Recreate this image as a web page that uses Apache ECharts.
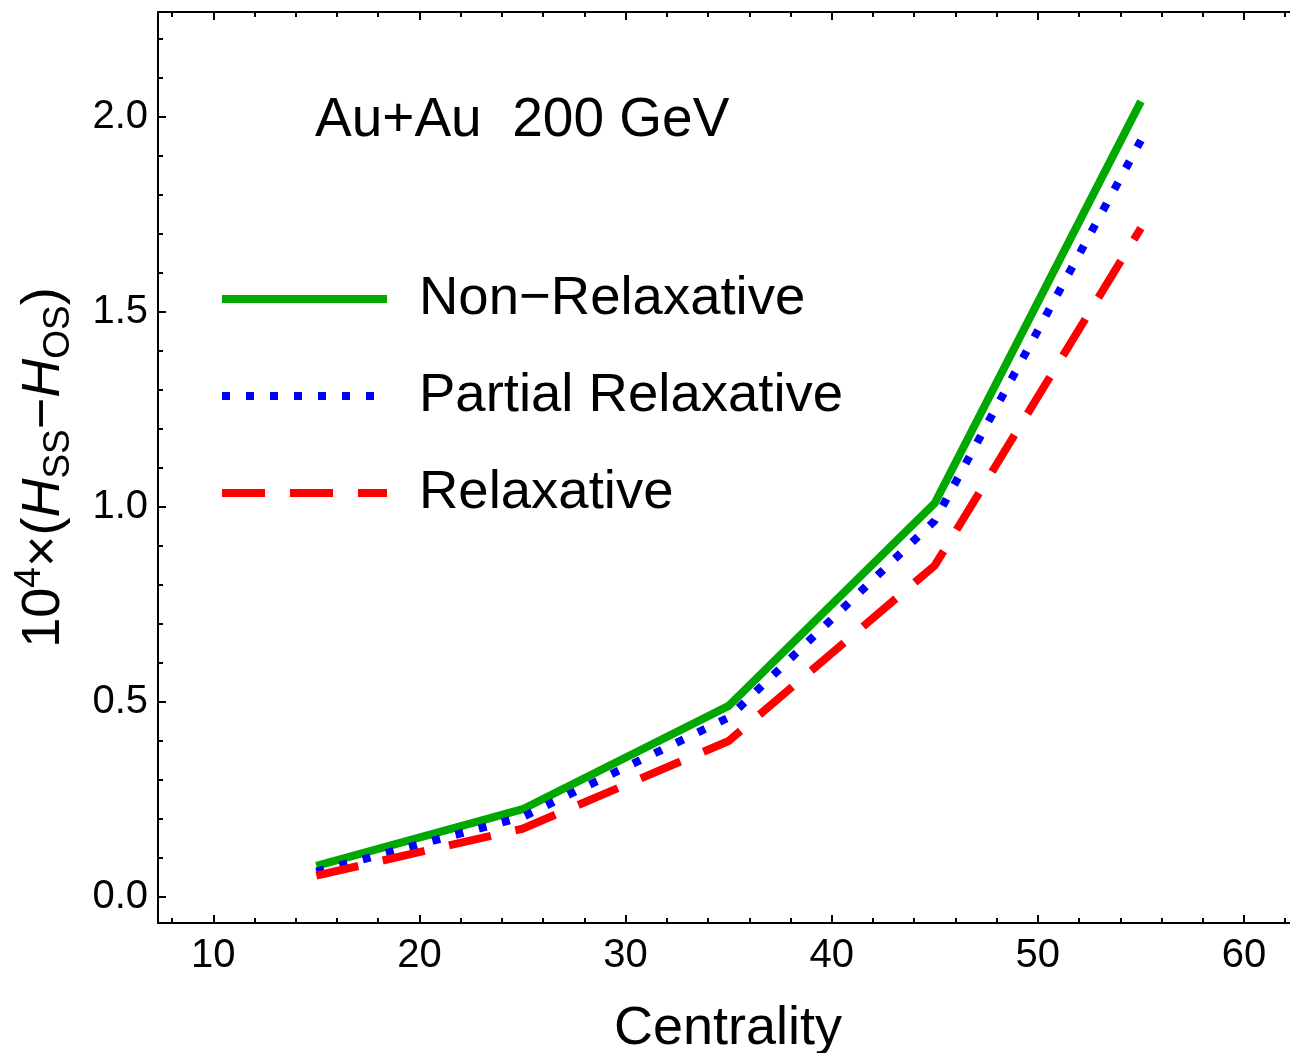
<!DOCTYPE html>
<html>
<head>
<meta charset="utf-8">
<script src="https://cdn.jsdelivr.net/npm/echarts@6/dist/echarts.min.js"></script>
<style>
  html, body { margin: 0; padding: 0; background: #fff; overflow: hidden; }
  #chart { width: 1290px; height: 1053px; }
</style>
</head>
<body>
<div id="chart"></div>
<script>
// Centrality bins (%)
const centrality = [15, 25, 35, 45, 55];
// 10^4 x (H_SS - H_OS) for each scenario
const nonRelaxative = [0.08, 0.225, 0.49, 1.01, 2.04];
const partialRelaxative = [0.065, 0.205, 0.46, 0.965, 1.94];
const relaxative = [0.055, 0.175, 0.40, 0.85, 1.715];

// Tick positions
const xMajorTicks = [10, 20, 30, 40, 50, 60];
const xMinorTicks = [8, 12, 14, 16, 18, 22, 24, 26, 28, 32, 34, 36, 38, 42, 44, 46, 48, 52, 54, 56, 58, 62];
const yMajorTicks = [0, 0.5, 1.0, 1.5, 2.0];
const yMinorTicks = [0.1, 0.2, 0.3, 0.4, 0.6, 0.7, 0.8, 0.9, 1.1, 1.2, 1.3, 1.4, 1.6, 1.7, 1.8, 1.9, 2.1, 2.2];

const X_MIN = 7.317, X_MAX = 62.62;
const Y_MIN = -0.0667, Y_MAX = 2.269;

const FONT = '"Liberation Sans", Arial, sans-serif';
const frameLine = { show: true, onZero: false, lineStyle: { color: '#000', width: 2 } };
const hiddenLine = { show: false, onZero: false };

function xAxisDef(position, ticks, len, showLine, labels) {
  return {
    type: 'value', position: position, min: X_MIN, max: X_MAX,
    splitLine: { show: false },
    axisLine: showLine ? frameLine : hiddenLine,
    axisTick: { show: true, inside: true, length: len, customValues: ticks,
                lineStyle: { color: '#000', width: 2 } },
    axisLabel: labels ? {
      show: true, customValues: xMajorTicks, fontSize: 40, fontFamily: FONT,
      color: '#000', margin: 13
    } : { show: false }
  };
}
function yAxisDef(position, ticks, len, showLine, labels) {
  return {
    type: 'value', position: position, min: Y_MIN, max: Y_MAX,
    splitLine: { show: false },
    axisLine: showLine ? frameLine : hiddenLine,
    axisTick: { show: true, inside: true, length: len, customValues: ticks,
                lineStyle: { color: '#000', width: 2 } },
    axisLabel: labels ? {
      show: true, customValues: yMajorTicks, fontSize: 40, fontFamily: FONT,
      color: '#000', margin: 10,
      formatter: v => v.toFixed(1)
    } : { show: false }
  };
}

const xAxes = [
  xAxisDef('bottom', xMajorTicks, 8, true, true),
  xAxisDef('bottom', xMinorTicks, 5, false, false),
  xAxisDef('top', xMajorTicks, 8, true, false),
  xAxisDef('top', xMinorTicks, 5, false, false)
];
xAxes[0].name = 'Centrality';
xAxes[0].nameLocation = 'middle';
xAxes[0].nameGap = 79;
xAxes[0].nameTextStyle = { fontSize: 54, fontFamily: FONT, color: '#000' };

const yAxes = [
  yAxisDef('left', yMajorTicks, 8, true, true),
  yAxisDef('left', yMinorTicks, 5, false, false),
  yAxisDef('right', yMajorTicks, 8, true, false),
  yAxisDef('right', yMinorTicks, 5, false, false)
];
yAxes[0].name = '{n|10}{sup|4}{n|×(}{it|H}{sub|SS}{n|−}{it|H}{sub|OS}{n|)}';
yAxes[0].nameLocation = 'middle';
yAxes[0].nameRotate = 90;
yAxes[0].nameGap = 81;
yAxes[0].nameTextStyle = {
  fontFamily: FONT, color: '#000', fontSize: 54,
  rich: {
    n: { fontSize: 54, fontFamily: FONT, color: '#000', lineHeight: 66, verticalAlign: 'middle' },
    it: { fontSize: 54, fontFamily: FONT, fontStyle: 'italic', color: '#000', lineHeight: 66, verticalAlign: 'middle' },
    sup: { fontSize: 37, fontFamily: FONT, color: '#000', lineHeight: 35, verticalAlign: 'top' },
    sub: { fontSize: 37, fontFamily: FONT, color: '#000', lineHeight: 29, verticalAlign: 'bottom' }
  }
};

function pairs(values) {
  return centrality.map((c, i) => [c, values[i]]);
}

const chart = echarts.init(document.getElementById('chart'), null, { renderer: 'canvas' });
chart.setOption({
  animation: false,
  backgroundColor: '#fff',
  grid: { left: 158, top: 12, width: 1140, height: 911, containLabel: false, outerBoundsMode: 'none' },
  title: {
    text: 'Au+Au  200 GeV', left: 315, top: 93, padding: 0,
    textStyle: { fontSize: 55, fontWeight: 'normal', fontFamily: FONT, color: '#000' }
  },
  legend: {
    orient: 'vertical', left: 218, top: 270, padding: 0,
    itemWidth: 165, itemHeight: 8, itemGap: 39,
    lineStyle: { width: 8 },
    itemStyle: { opacity: 0 },
    textStyle: { fontSize: 54.5, fontFamily: FONT, color: '#000', padding: [0, 0, 0, 27], lineHeight: 58 },
    data: ['Non−Relaxative', 'Partial Relaxative', 'Relaxative']
  },
  xAxis: xAxes,
  yAxis: yAxes,
  series: [
    {
      name: 'Non−Relaxative', type: 'line', data: pairs(nonRelaxative),
      xAxisIndex: 0, yAxisIndex: 0, symbol: 'none',
      lineStyle: { color: '#00a800', width: 8, join: 'miter' }, itemStyle: { color: '#00a800' }
    },
    {
      name: 'Partial Relaxative', type: 'line', data: pairs(partialRelaxative),
      xAxisIndex: 0, yAxisIndex: 0, symbol: 'none',
      lineStyle: { color: '#0000ff', width: 8, type: [8, 16], cap: 'butt' }, itemStyle: { color: '#0000ff' }
    },
    {
      name: 'Relaxative', type: 'line', data: pairs(relaxative),
      xAxisIndex: 0, yAxisIndex: 0, symbol: 'none',
      lineStyle: { color: '#ff0000', width: 8, type: [43, 25], cap: 'butt' }, itemStyle: { color: '#ff0000' }
    }
  ]
});
</script>
</body>
</html>
